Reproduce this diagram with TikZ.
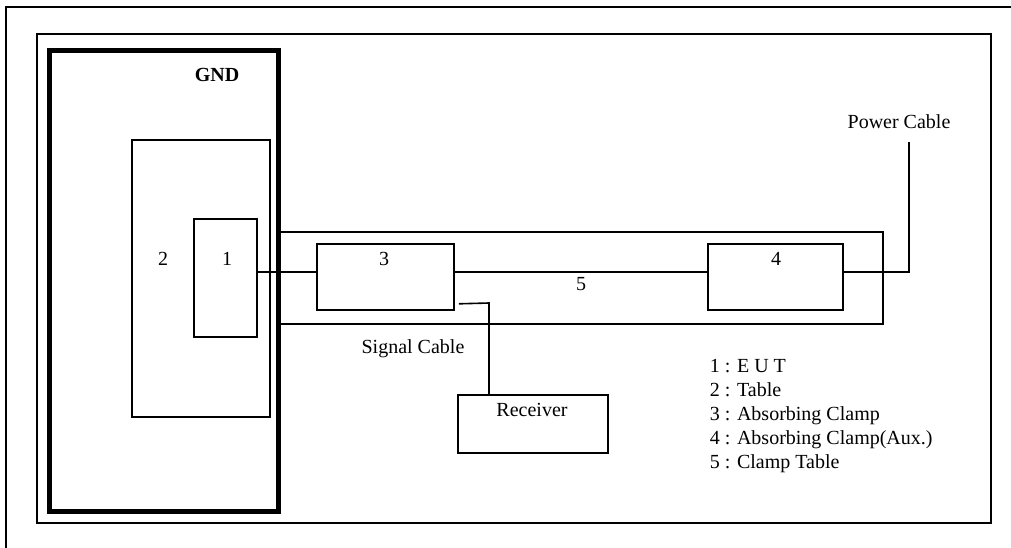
\documentclass[tikz,border=0pt]{standalone}
\usepackage{fontspec}
\setmainfont{Liberation Serif}

\begin{document}
\begin{tikzpicture}[x=1pt,y=-1pt,line width=1.6pt,
  font=\fontsize{20}{24}\selectfont,
  box/.style={draw,inner sep=0pt},
  lbl/.style={anchor=base,inner sep=0pt},
  legend/.style={anchor=base west,inner sep=0pt}]
  \useasboundingbox (0,0) rectangle (1011,547);
  % frames
  \draw (6,552)--(6,7)--(1016,7);
  \draw (37,34) rectangle (991,523);
  % ground plane and table
  \node[box,line width=5pt,minimum width=228.5pt,minimum height=461pt] (gnd) at (163.75,280.5) {};
  \node[lbl,font=\fontsize{20}{24}\selectfont\bfseries] (gndlbl) at (217,81) {GND};
  \node[box,minimum width=138pt,minimum height=277pt] (tbl) at (201,278.5) {};
  \node[box,minimum width=63pt,minimum height=118pt] (eut) at (225.5,278) {};
  \node[lbl] (tbllbl) at (163,265) {2};
  \node[lbl] (eutlbl) at (227,265) {1};
  % clamp table with clamps
  \node[box,minimum width=606pt,minimum height=92pt] (ctab) at (580,278) {};
  \node[box,minimum width=137pt,minimum height=66pt] (abs) at (385.5,277) {};
  \node[box,minimum width=135pt,minimum height=66pt] (aux) at (775.5,277) {};
  \node[lbl] (abslbl) at (384,265) {3};
  \node[lbl] (auxlbl) at (776,265) {4};
  \node[lbl] (ctablbl) at (581,290) {5};
  % receiver
  \node[box,minimum width=150pt,minimum height=58pt] (rcv) at (533,424) {};
  \node[lbl] (rcvlbl) at (532,416) {Receiver};
  % cables
  \coordinate (cab) at ([yshift=5pt]abs.west);
  \draw (cab -| eut.east) -- (cab);
  \draw ([yshift=5pt]abs.east) -- ([yshift=5pt]aux.west);
  \coordinate (pwrtop) at (909,142);
  \draw ([yshift=5pt]aux.east) -| (pwrtop);
  \node[lbl] (pwrlbl) at (899,128) {Power Cable};
  \coordinate (sigbend) at (489,303);
  \draw ([xshift=4pt,yshift=7pt]abs.south east) -- (sigbend) -- (sigbend |- rcv.north);
  \node[lbl] (siglbl) at (413,353) {Signal Cable};
  % legend
  \foreach \t [count=\i] in {1 : E U T,2 : Table,3 : Absorbing Clamp,4 : Absorbing Clamp(Aux.),5 : Clamp Table}
    \node[legend] (leg\i) at (709,{348+24*\i}) {\t};
\end{tikzpicture}
\end{document}
